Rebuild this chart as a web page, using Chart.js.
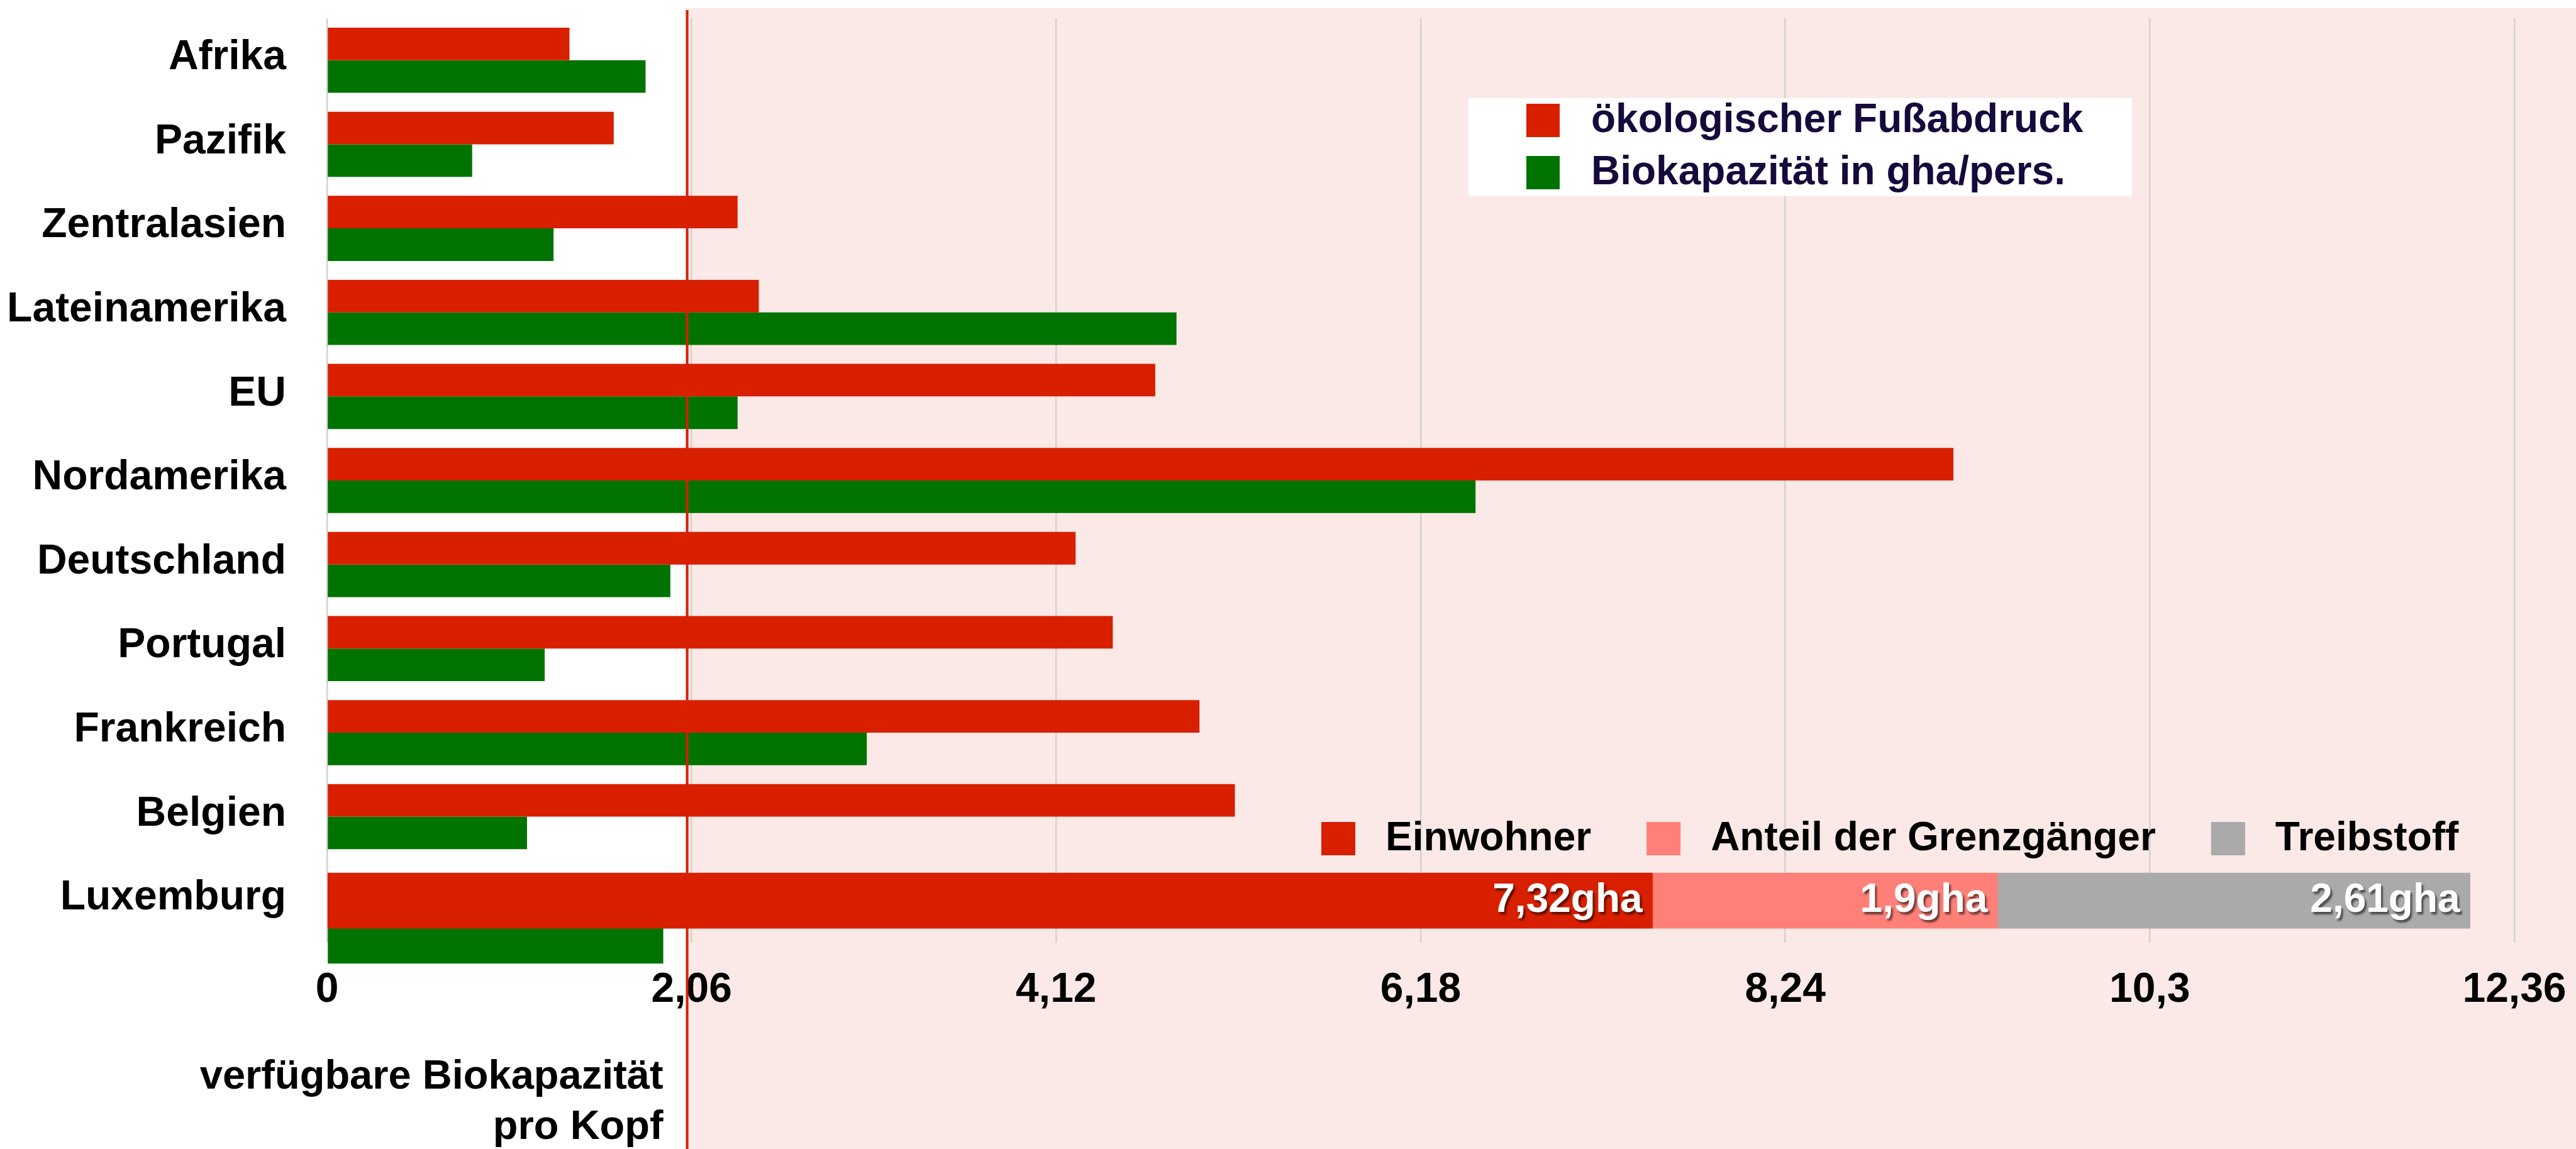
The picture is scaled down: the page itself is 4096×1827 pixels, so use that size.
<!DOCTYPE html>
<html lang="de">
<head>
<meta charset="utf-8">
<title>Ökologischer Fußabdruck</title>
<script src="https://cdn.jsdelivr.net/npm/chart.js@4.4.1/dist/chart.umd.min.js"></script>
<style>
  html, body { margin: 0; padding: 0; background: #ffffff; }
  #wrap { width: 4096px; height: 1827px; position: relative; }
</style>
</head>
<body>
<div id="wrap"><canvas id="myChart"></canvas></div>
<script>
'use strict';
// --- data ---
let regions = ['Afrika', 'Pazifik', 'Zentralasien', 'Lateinamerika', 'EU', 'Nordamerika',
  'Deutschland', 'Portugal', 'Frankreich', 'Belgien', 'Luxemburg'];
let fussabdruck = [1.37, 1.62, 2.32, 2.44, 4.68, 9.19, 4.23, 4.44, 4.93, 5.13, null];
let biokapazitaet = [1.80, 0.82, 1.28, 4.80, 2.32, 6.49, 1.94, 1.23, 3.05, 1.13, 1.90];
let luxSerien = ['Einwohner', 'Anteil der Grenzgänger', 'Treibstoff'];
let luxTeile = [7.49, 1.95, 2.67]; // drawn lengths of the Luxemburg segments
let luxLabels = ['7,32gha', '1,9gha', '2,61gha']; // printed in the segments
let xTicks = [0, 2.06, 4.12, 6.18, 8.24, 10.3, 12.36];
let verfuegbar = 2.035; // red line: verfügbare Biokapazität pro Kopf
let verfuegbarText = ['verfügbare Biokapazität', 'pro Kopf'];

const rot = '#d81f00';
const gruen = '#007300';
const luxFarben = ['#d81f00', '#ff8078', '#aaaaaa'];
const schrift = '"Liberation Sans", Arial, sans-serif';
const lux = regions.indexOf('Luxemburg');

let bioOhneLux = biokapazitaet.map((v, i) => (i === lux ? null : v));
let bioLux = biokapazitaet.map((v, i) => (i === lux ? v : null));

let datasets = [
  { label: 'ökologischer Fußabdruck', data: fussabdruck, backgroundColor: rot, stack: 'fuss',
    categoryPercentage: 0.775, barPercentage: 1, order: 1 },
  { label: 'Biokapazität in gha/pers.', data: bioOhneLux, backgroundColor: gruen, stack: 'bio',
    categoryPercentage: 0.775, barPercentage: 1, order: 2 },
  // Luxemburg's green bar hangs below the stacked bar: a tall bar whose upper half
  // is a transparent border, the middle part is covered by the stack drawn on top
  { label: 'Biokapazität in gha/pers.', data: bioLux, backgroundColor: gruen, stack: 'bioLux',
    grouped: false, barThickness: 200, borderWidth: { top: 100, right: 0, bottom: 0, left: 0 },
    borderColor: 'rgba(0,0,0,0)', borderSkipped: false, clip: false, order: 5 }
];
let luxIndex = [];
for (let k = 0; k < luxTeile.length; k++) {
  luxIndex.push(datasets.length);
  datasets.push({
    label: luxSerien[k],
    data: regions.map((r, i) => (i === lux ? luxTeile[k] : null)),
    backgroundColor: luxFarben[k],
    stack: 'lux',
    grouped: false,
    barThickness: 88,
    order: 0
  });
}

// pink area right of the red line
const hintergrund = {
  id: 'hintergrund',
  beforeDraw(chart) {
    const { ctx, width, height } = chart;
    let left = chart.scales.x.getPixelForValue(verfuegbar) - 3;
    ctx.save();
    ctx.fillStyle = '#ffffff';
    ctx.fillRect(0, 0, width, height);
    ctx.fillStyle = '#fae9e6';
    ctx.fillRect(left, 13, width - left, height - 13);
    ctx.restore();
  }
};

const extras = {
  id: 'extras',
  afterDatasetsDraw(chart) {
    const { ctx, height } = chart;
    ctx.save();

    // segment labels in the Luxemburg bar
    ctx.font = 'bold 64px ' + schrift;
    ctx.textAlign = 'right';
    ctx.textBaseline = 'alphabetic';
    ctx.fillStyle = '#ffffff';
    ctx.shadowColor = 'rgba(0,0,0,0.55)';
    ctx.shadowOffsetX = 3;
    ctx.shadowOffsetY = 4;
    ctx.shadowBlur = 3;
    luxIndex.forEach((d, k) => {
      let bar = chart.getDatasetMeta(d).data[lux];
      ctx.fillText(luxLabels[k], bar.x - 16, bar.y + 18);
    });
    ctx.shadowColor = 'transparent';

    // red line
    let px = chart.scales.x.getPixelForValue(verfuegbar);
    ctx.strokeStyle = rot;
    ctx.lineWidth = 4;
    ctx.beginPath();
    ctx.moveTo(px, 16);
    ctx.lineTo(px, height);
    ctx.stroke();

    // legend 1 (white box)
    ctx.textAlign = 'left';
    ctx.font = 'bold 64px ' + schrift;
    ctx.fillStyle = '#ffffff';
    ctx.fillRect(2335, 156, 1055, 156);
    [0, 1].forEach((d, k) => {
      let ds = chart.data.datasets[d];
      ctx.fillStyle = ds.backgroundColor;
      ctx.fillRect(2427, 165 + k * 83, 53, 53);
      ctx.fillStyle = '#160a3c';
      ctx.fillText(ds.label, 2530, 210 + k * 83);
    });

    // legend 2 (Luxemburg parts)
    let lx = 2101;
    luxIndex.forEach(d => {
      let ds = chart.data.datasets[d];
      ctx.fillStyle = ds.backgroundColor;
      ctx.fillRect(lx, 1307, 54, 53);
      ctx.fillStyle = '#000000';
      ctx.fillText(ds.label, lx + 102, 1352);
      lx += 102 + ctx.measureText(ds.label).width + 88;
    });

    // note under the red line
    ctx.font = 'bold 65px ' + schrift;
    ctx.textAlign = 'right';
    ctx.fillText(verfuegbarText[0], px - 38, 1731);
    ctx.fillText(verfuegbarText[1], px - 38, 1811);
    ctx.restore();
  }
};

Chart.defaults.font.family = schrift;
Chart.defaults.font.weight = 'bold';
Chart.defaults.color = '#000000';

let ctx = document.getElementById('myChart').getContext('2d');
let myChart = new Chart(ctx, {
  type: 'bar',
  data: { labels: regions, datasets: datasets },
  plugins: [hintergrund, extras],
  options: {
    indexAxis: 'y',
    responsive: true,
    maintainAspectRatio: false,
    animation: false,
    layout: { padding: { left: 0, top: 29, right: 98, bottom: 0 } },
    plugins: { legend: { display: false }, tooltip: { enabled: false } },
    scales: {
      x: {
        type: 'linear',
        min: 0,
        max: 12.36,
        afterBuildTicks: scale => { scale.ticks = xTicks.map(v => ({ value: v })); },
        afterFit: scale => {
          scale.height = 328;
          scale.paddingLeft = 0;
          scale.paddingRight = 0;
        },
        grid: { color: '#d2d2d2', lineWidth: 2.5, drawTicks: false },
        border: { display: false },
        ticks: {
          padding: 36,
          font: { size: 66, weight: 'bold' },
          color: '#000000',
          callback: value => String(value).replace('.', ',')
        }
      },
      y: {
        type: 'category',
        afterFit: scale => {
          scale.width = 520;
          scale.paddingTop = 0;
          scale.paddingBottom = 0;
        },
        grid: { display: false, drawTicks: false },
        border: { display: false },
        ticks: { padding: 65, labelOffset: -4, font: { size: 66, weight: 'bold' }, color: '#000000' }
      }
    }
  }
});
</script>
</body>
</html>
